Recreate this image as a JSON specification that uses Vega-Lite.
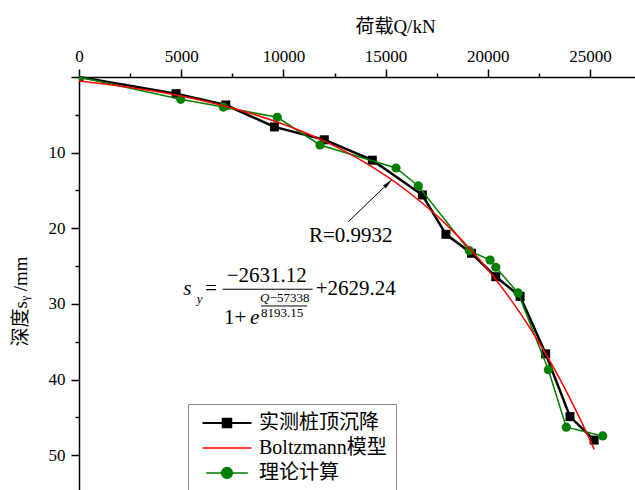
{
  "$schema": "https://vega.github.io/schema/vega-lite/v6.json",
  "autosize": {"type": "none"},
  "padding": {"left": 79, "top": 77, "right": 0, "bottom": 0},
  "width": 556,
  "height": 413,
  "background": "white",
  "config": {
    "font": "Liberation Serif, Noto Sans CJK SC",
    "view": {"stroke": null},
    "axis": {"grid": false, "domainColor": "black", "domainWidth": 1.5, "tickColor": "black", "tickWidth": 1.5, "labelColor": "black", "labelFontSize": 17, "labelFont": "Liberation Serif", "titleColor": "black", "titleFontWeight": "normal", "titleFontSize": 19, "titleFont": "Liberation Serif, Noto Sans CJK SC", "labelFlush": false, "labelOverlap": false}
  },
  "datasets": {
    "measured": [
      {"series": "实测桩顶沉降", "Q": 0, "s": 0},
      {"series": "实测桩顶沉降", "Q": 4750, "s": 2.2},
      {"series": "实测桩顶沉降", "Q": 7180, "s": 3.7},
      {"series": "实测桩顶沉降", "Q": 9560, "s": 6.6},
      {"series": "实测桩顶沉降", "Q": 12000, "s": 8.3},
      {"series": "实测桩顶沉降", "Q": 14350, "s": 11.0},
      {"series": "实测桩顶沉降", "Q": 16800, "s": 15.6},
      {"series": "实测桩顶沉降", "Q": 17950, "s": 20.8},
      {"series": "实测桩顶沉降", "Q": 19200, "s": 23.3},
      {"series": "实测桩顶沉降", "Q": 20390, "s": 26.4},
      {"series": "实测桩顶沉降", "Q": 21580, "s": 29.0},
      {"series": "实测桩顶沉降", "Q": 22830, "s": 36.6},
      {"series": "实测桩顶沉降", "Q": 24020, "s": 44.9},
      {"series": "实测桩顶沉降", "Q": 25200, "s": 48.0}
    ],
    "theory": [
      {"series": "理论计算", "Q": 0, "s": 0},
      {"series": "理论计算", "Q": 4975, "s": 2.95},
      {"series": "理论计算", "Q": 7060, "s": 3.97},
      {"series": "理论计算", "Q": 9700, "s": 5.33},
      {"series": "理论计算", "Q": 11790, "s": 8.99},
      {"series": "理论计算", "Q": 15510, "s": 12.03},
      {"series": "理论计算", "Q": 16600, "s": 14.4},
      {"series": "理论计算", "Q": 19095, "s": 22.96},
      {"series": "理论计算", "Q": 20110, "s": 24.2},
      {"series": "理论计算", "Q": 20390, "s": 25.15},
      {"series": "理论计算", "Q": 21480, "s": 28.55},
      {"series": "理论计算", "Q": 22960, "s": 38.7},
      {"series": "理论计算", "Q": 23840, "s": 46.3},
      {"series": "理论计算", "Q": 25620, "s": 47.45}
    ],
    "fit": [
      {"series": "Boltzmann模型", "Q": 0, "s": 0.52},
      {"series": "Boltzmann模型", "Q": 2000, "s": 1.19},
      {"series": "Boltzmann模型", "Q": 4000, "s": 2.03},
      {"series": "Boltzmann模型", "Q": 6000, "s": 3.11},
      {"series": "Boltzmann模型", "Q": 8000, "s": 4.49},
      {"series": "Boltzmann模型", "Q": 10000, "s": 6.25},
      {"series": "Boltzmann模型", "Q": 12000, "s": 8.48},
      {"series": "Boltzmann模型", "Q": 14000, "s": 11.33},
      {"series": "Boltzmann模型", "Q": 16000, "s": 14.97},
      {"series": "Boltzmann模型", "Q": 18000, "s": 19.58},
      {"series": "Boltzmann模型", "Q": 20000, "s": 25.46},
      {"series": "Boltzmann模型", "Q": 21000, "s": 28.97},
      {"series": "Boltzmann模型", "Q": 22000, "s": 32.92},
      {"series": "Boltzmann模型", "Q": 23000, "s": 37.37},
      {"series": "Boltzmann模型", "Q": 24000, "s": 42.38},
      {"series": "Boltzmann模型", "Q": 25000, "s": 48.01},
      {"series": "Boltzmann模型", "Q": 25200, "s": 49.22}
    ],
    "bigText": [
      {"t": "R=0.9932", "Q": 11250, "s": 21.77},
      {"t": "=", "Q": 6165, "s": 28.82},
      {"t": "−2631.12", "Q": 7225, "s": 27.14},
      {"t": "+2629.24", "Q": 11580, "s": 28.82},
      {"t": "1+", "Q": 7095, "s": 32.65}
    ],
    "bigItalic": [
      {"t": "s", "Q": 5100, "s": 28.82},
      {"t": "e", "Q": 8365, "s": 32.65}
    ],
    "smallItalic": [
      {"t": "y", "Q": 5760, "s": 29.87},
      {"t": "Q", "Q": 8855, "s": 29.81}
    ],
    "smallText": [
      {"t": "−57338", "Q": 9330, "s": 29.81},
      {"t": "8193.15", "Q": 8905, "s": 31.76}
    ],
    "bars": [
      {"Q": 7030, "Q2": 11430, "s": 28.06},
      {"Q": 8905, "Q2": 11155, "s": 30.27}
    ],
    "arrow": [
      {"Q": 13175, "s": 19.13, "Q2": 15300, "s2": 13.6}
    ],
    "arrowHead": [
      {"Q": 15120, "s": 14.08}
    ]
  },
  "encoding": {
    "x": {
      "field": "Q", "type": "quantitative",
      "scale": {"domain": [0, 27200], "nice": false, "zero": false},
      "axis": {
        "orient": "top",
        "values": [0, 2500, 5000, 7500, 10000, 12500, 15000, 17500, 20000, 22500, 25000],
        "format": "d",
        "labelExpr": "datum.value % 5000 == 0 ? datum.label : ''",
        "tickSize": {"condition": {"test": "datum.value % 5000 == 0", "value": 8}, "value": 4},
        "labelPadding": 4,
        "title": "荷载Q/kN",
        "titleX": 316,
        "titleY": -45,
        "titleBaseline": "alphabetic",
        "titleAlign": "center"
      }
    },
    "y": {
      "field": "s", "type": "quantitative",
      "scale": {"domain": [0, 54.6], "nice": false, "zero": false, "reverse": true},
      "axis": {
        "orient": "left",
        "values": [0, 5, 10, 15, 20, 25, 30, 35, 40, 45, 50],
        "labelExpr": "datum.value % 10 == 0 && datum.value > 0 ? datum.label : ''",
        "tickSize": {"condition": {"test": "datum.value % 10 == 0", "value": 8}, "value": 4},
        "labelPadding": 6,
        "title": "深度sᵧ /mm",
        "titleAngle": -90,
        "titleX": -59,
        "titleY": 224,
        "titleAlign": "center",
        "titleBaseline": "middle"
      }
    }
  },
  "layer": [
    {
      "data": {"name": "measured"},
      "mark": {"type": "line", "strokeWidth": 2.5},
      "encoding": {
        "color": {
          "field": "series", "type": "nominal",
          "scale": {"domain": ["实测桩顶沉降", "Boltzmann模型", "理论计算"], "range": ["#000000", "#ff0000", "#008000"]},
          "legend": {
            "orient": "none", "legendX": 109, "legendY": 327,
            "title": null,
            "symbolSize": 2400,
            "labelFontSize": 20,
            "labelFont": "Liberation Serif, Noto Sans CJK SC",
            "labelColor": "black",
            "labelOffset": 22,
            "rowPadding": 5,
            "padding": 9,
            "symbolOffset": 20,
            "strokeColor": "#888888",
            "fillColor": "white",
            "symbolStrokeWidth": 1.5,
            "encode": {
              "legend": {
                "update": {
                  "stroke": {"value": "#888888"},
                  "strokeWidth": {"value": 1},
                  "fill": {"value": "white"}
                }
              },
              "symbols": {
                "update": {
                  "shape": {"signal": "datum.value === '实测桩顶沉降' ? 'M-1,0H1M-0.17,-0.17H0.17V0.17H-0.17Z' : (datum.value === '理论计算' ? 'M-0.85,0H0.85M0.22,0A0.22,0.22,0,1,1,-0.22,0A0.22,0.22,0,1,1,0.22,0' : 'M-1,0H1')"},
                  "size": {"value": 2400},
                  "fill": {"scale": "color", "field": "value"},
                  "stroke": {"scale": "color", "field": "value"},
                  "strokeWidth": {"signal": "datum.value === '实测桩顶沉降' ? 2.2 : 1.5"},
                  "opacity": {"value": 1}
                }
              }
            }
          }
        }
      }
    },
    {
      "data": {"name": "measured"},
      "mark": {"type": "point", "shape": "square", "filled": true, "size": 81, "opacity": 1, "clip": true},
      "encoding": {"color": {"field": "series", "type": "nominal"}}
    },
    {
      "data": {"name": "theory"},
      "mark": {"type": "line", "strokeWidth": 1.5},
      "encoding": {"color": {"field": "series", "type": "nominal"}}
    },
    {
      "data": {"name": "theory"},
      "mark": {"type": "point", "shape": "circle", "filled": true, "size": 85, "opacity": 1, "clip": true},
      "encoding": {"color": {"field": "series", "type": "nominal"}}
    },
    {
      "data": {"name": "fit"},
      "mark": {"type": "line", "strokeWidth": 1.5, "interpolate": "monotone"},
      "encoding": {"color": {"field": "series", "type": "nominal"}}
    },
    {
      "data": {"name": "arrow"},
      "mark": {"type": "rule", "color": "black", "strokeWidth": 1},
      "encoding": {"x2": {"field": "Q2"}, "y2": {"field": "s2"}}
    },
    {
      "data": {"name": "arrowHead"},
      "mark": {"type": "point", "shape": "M0,-1L0.4,1L-0.4,1Z", "filled": true, "color": "black", "size": 100, "angle": 46, "opacity": 1},
      "encoding": {}
    },
    {
      "data": {"name": "bars"},
      "mark": {"type": "rule", "color": "black", "strokeWidth": 1},
      "encoding": {"x2": {"field": "Q2"}}
    },
    {
      "data": {"name": "bigText"},
      "mark": {"type": "text", "align": "left", "baseline": "alphabetic", "fontSize": 21, "font": "Liberation Serif", "color": "black"},
      "encoding": {"text": {"field": "t"}}
    },
    {
      "data": {"name": "bigItalic"},
      "mark": {"type": "text", "align": "left", "baseline": "alphabetic", "fontSize": 21, "fontStyle": "italic", "font": "Liberation Serif", "color": "black"},
      "encoding": {"text": {"field": "t"}}
    },
    {
      "data": {"name": "smallItalic"},
      "mark": {"type": "text", "align": "left", "baseline": "alphabetic", "fontSize": 13, "fontStyle": "italic", "font": "Liberation Serif", "color": "black"},
      "encoding": {"text": {"field": "t"}}
    },
    {
      "data": {"name": "smallText"},
      "mark": {"type": "text", "align": "left", "baseline": "alphabetic", "fontSize": 13, "font": "Liberation Serif", "color": "black"},
      "encoding": {"text": {"field": "t"}}
    }
  ]
}
